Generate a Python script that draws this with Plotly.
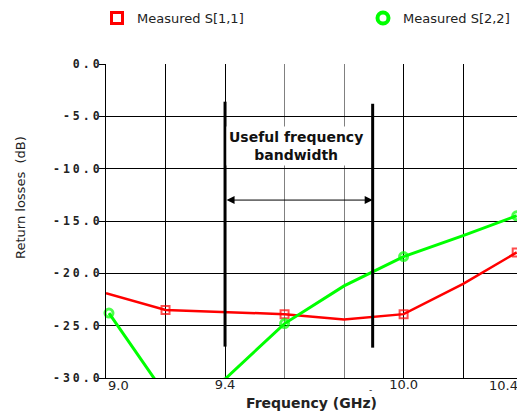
import plotly.graph_objects as go

# ---- data ----
freq_s11 = [9.0, 9.2, 9.6, 9.8, 10.0, 10.2, 10.38]
s11_db = [-21.9, -23.5, -23.9, -24.4, -23.9, -21.0, -18.0]
s11_marked = [0, 1, 1, 0, 1, 0, 1]

freq_s22 = [9.01, 9.2, 9.4, 9.6, 9.8, 10.0, 10.2, 10.38]
s22_db = [-23.8, -31.6, -30.1, -24.8, -21.2, -18.4, -16.4, -14.5]
s22_marked = [1, 0, 0, 1, 0, 1, 0, 1]

band_edges = [9.4, 9.896]
band_top = [-3.6, -3.8]
band_bottom = [-27.0, -27.1]
arrow_level = -13.0

xtick_vals = [9.0, 9.2, 9.4, 10.0, 10.2]
xtick_text = ["", "", "9.4", "10.0", ""]
xminor_vals = [9.6, 9.8]
ytick_vals = [0, -5, -10, -15, -20, -25, -30]
ytick_text = ["0.0", "-5.0", "-10.0", "-15.0", "-20.0", "-25.0", "-30.0"]

RED = "#ff0000"
GREEN = "#00ff00"
SPACER = '<span style="font-size:5px">\u2009</span>'

W, H = 517, 416
L, T, B = 106, 64, 38
PW, PH = W - L, H - T - B


def px(xpage):
    return (xpage - L) / PW


def py(ypage):
    return (H - B - ypage) / PH


fig = go.Figure()

fig.add_trace(go.Scatter(
    x=freq_s11, y=s11_db, mode="lines+markers", showlegend=False,
    line=dict(color=RED, width=2.5),
    marker=dict(symbol="square-open", color=RED,
                size=[8 if m else 0 for m in s11_marked], line=dict(width=2, color=RED)),
    cliponaxis=False,
))
fig.add_trace(go.Scatter(
    x=freq_s22, y=s22_db, mode="lines+markers", showlegend=False,
    line=dict(color=GREEN, width=3),
    marker=dict(symbol="circle-open", color=GREEN,
                size=[8 if m else 0 for m in s22_marked], line=dict(width=3, color=GREEN)),
    cliponaxis=False,
))

# band edge lines
for xe, yt, yb in zip(band_edges, band_top, band_bottom):
    fig.add_trace(go.Scatter(x=[xe, xe], y=[yt, yb], mode="lines", showlegend=False,
                             line=dict(color="black", width=3), hoverinfo="skip"))

# legend entries
fig.add_trace(go.Scatter(x=[None], y=[None], mode="markers", name="Measured S[1,1]",
                         marker=dict(symbol="square-open", size=11, color=RED,
                                     line=dict(width=3, color=RED)),
                         legend="legend"))
fig.add_trace(go.Scatter(x=[None], y=[None], mode="markers", name="Measured S[2,2]",
                         marker=dict(symbol="circle-open", size=11, color=GREEN,
                                     line=dict(width=4, color=GREEN)),
                         legend="legend2"))

# bandwidth arrow
fig.add_annotation(x=band_edges[1], y=arrow_level, ax=band_edges[0], ay=arrow_level,
                   xref="x", yref="y", axref="x", ayref="y", text="",
                   showarrow=True, arrowhead=2, startarrowhead=2, arrowside="end+start",
                   arrowsize=1.6, startarrowsize=1.6, arrowwidth=1, arrowcolor="black")
fig.add_annotation(x=(band_edges[0] + band_edges[1]) / 2 - 0.01, y=-7.5, yshift=-3,
                   xref="x", yref="y",
                   text="Useful frequency<br>bandwidth", showarrow=False,
                   font=dict(family="DejaVu Sans", size=14, color="#111111", weight="bold"),
                   bgcolor="white", borderpad=2)

# x tick labels at the plot ends
fig.add_annotation(x=9.0, y=-30, xref="x", yref="y", yshift=-7, text="9.0", showarrow=False,
                   xanchor="left", yanchor="middle",
                   font=dict(family="DejaVu Sans", size=13, color="#222222"))
fig.add_annotation(x=1.0, y=-30, xref="paper", yref="y", yshift=-7, text="10.4", showarrow=False,
                   xanchor="right", xshift=3, yanchor="middle",
                   font=dict(family="DejaVu Sans", size=13, color="#222222"))
fig.add_annotation(x=9.89, y=-30, xref="x", yref="y", yshift=-12, text="-", showarrow=False,
                   font=dict(family="DejaVu Sans", size=9, color="#222222"))

# y axis title
fig.add_annotation(x=px(20), y=py(198), xref="paper", yref="paper",
                   text="Return losses\u00a0\u00a0(dB)", textangle=-90, showarrow=False,
                   xanchor="center", yanchor="middle",
                   font=dict(family="DejaVu Sans", size=13, color="#222222"))

fig.update_layout(
    width=W, height=H,
    margin=dict(l=L, r=0, t=T, b=B, pad=0, autoexpand=False),
    paper_bgcolor="white", plot_bgcolor="white",
    font=dict(family="DejaVu Sans", color="#222222"),
    legend=dict(x=px(97), y=py(18),
                xanchor="left", yanchor="middle", bgcolor="rgba(0,0,0,0)",
                font=dict(family="DejaVu Sans", size=13, color="#222222")),
    legend2=dict(x=px(363), y=py(18),
                 xanchor="left", yanchor="middle", bgcolor="rgba(0,0,0,0)",
                 font=dict(family="DejaVu Sans", size=13, color="#222222")),
    xaxis=dict(range=[9.0, 10.381], tickvals=xtick_vals, ticktext=xtick_text,
               automargin=False, ticklabelstandoff=-6,
               showgrid=True, gridcolor="black", gridwidth=1,
               minor=dict(tickvals=xminor_vals, showgrid=True, gridcolor="#808080", gridwidth=1),
               showline=True, linecolor="black", linewidth=1, ticks="", zeroline=False,
               tickfont=dict(family="DejaVu Sans", size=13, color="#222222"),
               title=dict(text="Frequency (GHz)", standoff=7,
                          font=dict(family="DejaVu Sans", size=14, color="#222222", weight="bold"))),
    yaxis=dict(range=[-30, 0], tickvals=ytick_vals,
               ticktext=[SPACER.join(t) for t in ytick_text],
               automargin=False, ticklabelstandoff=-3,
               showgrid=True, gridcolor="black", gridwidth=1,
               showline=True, linecolor="black", linewidth=1, mirror=False,
               ticks="outside", ticklen=6, tickcolor="black", zeroline=False,
               tickfont=dict(family="DejaVu Sans Mono", size=11.5, color="#222222", weight="bold")),
)

fig.write_html(
    "out.html",
    config={"displayModeBar": False},
    post_script="document.body.style.margin='0';document.body.style.overflow='hidden';",
)
